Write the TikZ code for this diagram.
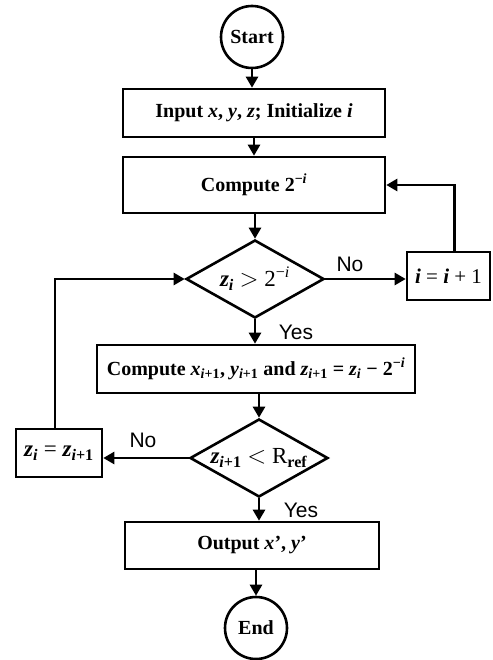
\documentclass[tikz,border=0pt]{standalone}
\usepackage{fontspec}
\setmainfont{Liberation Serif}
\newfontfamily\labelfont{Liberation Sans}
\usetikzlibrary{arrows.meta,shapes.geometric}

% italic letters and small raised/lowered indices set in text
\newcommand{\vr}[1]{\textit{#1}}
\newcommand{\sbs}[1]{\textsubscript{#1}}
\newcommand{\sps}[1]{\textsuperscript{#1}}

\begin{document}
\begin{tikzpicture}[x=1pt,y=-1pt,line width=2.6pt,
  every node/.style={inner sep=0pt},
  term/.style={draw,circle,minimum size=62pt,font=\bfseries\fontsize{20}{22}\selectfont},
  proc/.style={draw,rectangle,font=\bfseries\fontsize{20}{22}\selectfont},
  dec/.style={draw,diamond,minimum width=138pt,minimum height=78pt},
  dectext/.style={font=\fontsize{23}{25}\selectfont},
  yn/.style={font=\labelfont\fontsize{21}{23}\selectfont},
  arr/.style={-{Triangle[length=11pt,width=12pt]}}]

\useasboundingbox (0,0) rectangle (492,660);

\node[term] (start) at (252,37) {Start};
\node[proc,minimum width=262pt,minimum height=48pt] (input) at (254,113)
  {Input \vr{x}, \vr{y}, \vr{z}; Initialize \vr{i}};
\node[proc,minimum width=262pt,minimum height=56pt] (comp) at (254,185)
  {Compute 2\sps{\textminus\vr{i}}};
\node[dec] (d1) at (255,279) {};
\node[dectext] at (d1) {\textbf{\vr{z}\sbs{\vr{i}}} $>$ 2\sps{\textminus\vr{i}}};
\node[proc,minimum width=83pt,minimum height=48pt,font=\fontsize{21}{23}\selectfont] (inc) at (448.5,276)
  {\textbf{\vr{i}} = \textbf{\vr{i}} + 1};
\node[proc,minimum width=318pt,minimum height=48pt] (comp2) at (256,369)
  {Compute \vr{x}\sbs{\vr{i}+1}, \vr{y}\sbs{\vr{i}+1} and \vr{z}\sbs{\vr{i}+1} = \vr{z}\sbs{\vr{i}} \textminus{} 2\sps{\textminus\vr{i}}};
\node[dec] (d2) at (259,458) {};
\node[dectext] at (d2) {\textbf{\vr{z}\sbs{\vr{i}+1}} $<$ R\sbs{\textbf{ref}}};
\node[proc,minimum width=86pt,minimum height=48pt,font=\fontsize{23}{25}\selectfont] (upd) at (59,453)
  {\textbf{\vr{z}\sbs{\vr{i}}} = \textbf{\vr{z}\sbs{\vr{i}+1}}};
\node[proc,minimum width=254pt,minimum height=47pt] (out) at (252,545.5)
  {Output \vr{x}', \vr{y}'};
\node[term] (end) at (256,628) {End};

% main flow
\draw[arr] (start.south) -- (start.south |- input.north);
\draw[arr] (input.south) -- (input.south |- comp.north);
\draw[arr] (comp.south -| d1.north) -- (d1.north);
\draw[arr] (d1.south) -- (d1.south |- comp2.north);
\draw[arr] (comp2.south -| d2.north) -- (d2.north);
\draw[arr] (d2.south) -- (d2.south |- out.north);
\draw[arr] (out.south -| end.north) -- (end.north);

% decision branches and loops
\draw[arr] (d1.east) -- (d1.east -| inc.west);
\draw[arr] ([xshift=6pt]inc.north) |- (comp.east);
\draw[arr] (d2.west) -- (d2.west -| upd.east);
\draw[arr] ([xshift=-4pt]upd.north) |- (d1.west);

% branch labels
\node[yn] (no1) at (350,264) {No};
\node[yn] (yes1) at (296,332) {Yes};
\node[yn] (no2) at (143,440) {No};
\node[yn] (yes2) at (301,510) {Yes};
\end{tikzpicture}
\end{document}
